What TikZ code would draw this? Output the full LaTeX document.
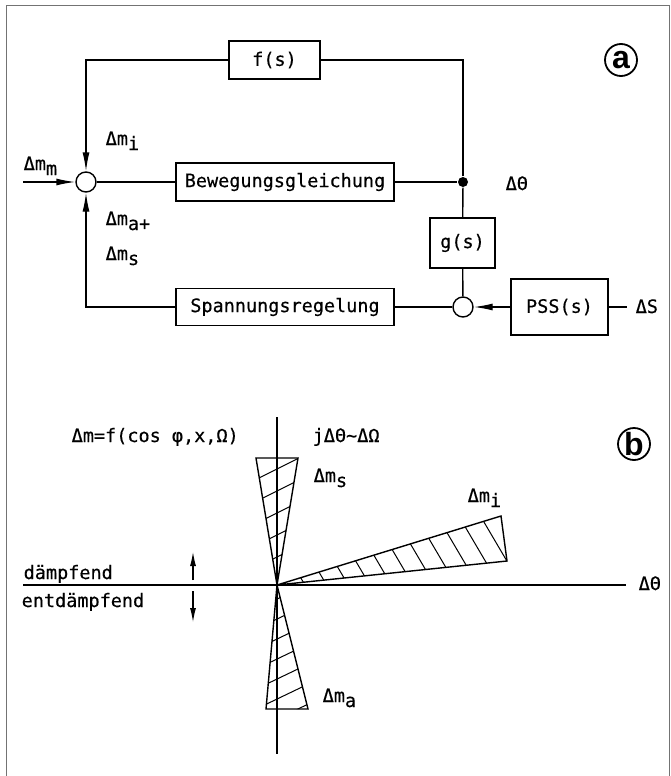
\documentclass[tikz,border=0pt]{standalone}
\usepackage{fontspec}
\setmainfont{DejaVu Sans Mono}[FakeBold=0.4]
\newfontfamily\tagfont{Liberation Sans}
\usetikzlibrary{arrows.meta,positioning,calc}
\definecolor{framegray}{RGB}{115,115,115}
\newcommand{\lowsub}[1]{\raisebox{-5pt}{#1}}

\begin{document}
\begin{tikzpicture}[
  x=1pt, y=-1pt,
  >={Latex[length=19pt,width=7pt]},
  line width=1.4pt,
  font=\fontsize{18.5}{20}\selectfont,
  block/.style={
    draw,
    minimum height=38pt,
    inner sep=0pt
  },
  summer/.style={
    draw,
    circle,
    minimum size=20pt,
    inner sep=0pt
  },
  sig/.style={anchor=base west, inner sep=0pt},
  tag/.style={
    draw,
    circle,
    line width=1.8pt,
    minimum size=32pt,
    inner sep=0pt,
    font=\tagfont\bfseries\fontsize{32}{32}\selectfont
  },
  hatch/.style={line width=1pt},
  thinarrow/.style={line width=1.1pt, -{Latex[length=14pt,width=6pt]}}
]

  \useasboundingbox (0,0) rectangle (671,776);
  \draw[framegray, line width=1pt] (6,776) -- (6,6) -- (669,6) -- (669,776);

  % Part a: block diagram
  \node[block, minimum width=91pt] (fs) at (274.5,60) {f(s)};
  \node[block, minimum width=218pt] (beweg) at (285,182) {Bewegungsgleichung};
  \node[block, minimum width=65pt, minimum height=50pt] (gs) at (462.5,243) {g(s)};
  \node[block, minimum width=218pt, minimum height=37pt] (spann) at (285,307) {Spannungsregelung};
  \node[block, minimum width=97pt, minimum height=56pt] (pss) at (559.5,307) {PSS(s)};

  \node[summer] (sum1) at (86,182) {};
  \node[summer] (sum2) at (463,307) {};
  \node[circle, fill, minimum size=10pt, inner sep=0pt] (branch) at (463,182) {};
  \coordinate (mmin) at (23,182);
  \coordinate (dsend) at (627,307);

  \draw[->] (mmin) -- (sum1);
  \draw (sum1) -- (beweg);
  \draw (beweg) -- (branch);
  \draw (branch) |- (fs);
  \draw[->] (fs) -| (sum1);
  \draw (branch) -- (gs);
  \draw (gs) -- (sum2);
  \draw[->] (pss) -- (sum2);
  \draw (sum2) -- (spann);
  \draw[->] (spann) -| (sum1);
  \draw (pss) -- (dsend);

  % Signal labels
  \node[sig] (lmm) at (23,170) {Δm\lowsub{m}};
  \node[sig] (lmi) at (105,145) {Δm\lowsub{i}};
  \node[sig] (lma) at (105,225) {Δm\lowsub{a+}};
  \node[sig] (lms) at (105,260) {Δm\lowsub{s}};
  \node[sig] (lth) at (505,190) {ΔΘ};
  \node[sig] (lds) at (635,313) {ΔS};
  \node[tag] (taga) at (621,60) {a};

  % Part b: phasor plane
  \coordinate (O) at (277,585);
  \coordinate (vtop) at (277,417);
  \coordinate (vbot) at (277,754);
  \coordinate (hleft) at (23,585);
  \coordinate (hright) at (626,585);
  \draw (vtop) -- (vbot);
  \draw (hleft) -- (hright);

  \coordinate (sL) at (256,458);
  \coordinate (sR) at (298,458);
  \coordinate (aL) at (266,709);
  \coordinate (aR) at (308,709);
  \coordinate (iU) at (501,516);
  \coordinate (iD) at (507,561);

  \draw (O) -- (sL) -- (sR) -- cycle;
  \draw (O) -- (aL) -- (aR) -- cycle;
  \draw (O) -- (iU) -- (iD) -- cycle;

  \begin{scope}
    \clip (O) -- (sL) -- (sR) -- cycle;
    \foreach \c in {469,491,513,535,557,579}
      \draw[hatch] (250,\c+13.5) -- (305,\c-14);
  \end{scope}
  \begin{scope}
    \clip (O) -- (aL) -- (aR) -- cycle;
    \foreach \c in {599,619,639,659,679,699,719}
      \draw[hatch] (250,\c+13) -- (320,\c-20.6);
  \end{scope}
  \begin{scope}
    \clip (O) -- (iU) -- (iD) -- cycle;
    \foreach \k in {0,...,11}
      \draw[hatch] ({551-21.6*\k},636) -- ({461-21.6*\k},483);
  \end{scope}

  \coordinate (up0) at (193,580);
  \coordinate (up1) at (193,552);
  \coordinate (dn0) at (193,591);
  \coordinate (dn1) at (193,622);
  \draw[thinarrow] (up0) -- (up1);
  \draw[thinarrow] (dn0) -- (dn1);

  \node[sig] (lfun) at (71,442) {Δm=f(cos φ,x,Ω)};
  \node[sig] (ljth) at (312,442) {jΔΘ\textasciitilde ΔΩ};
  \node[sig] (lbs) at (313,482) {Δm\lowsub{s}};
  \node[sig] (lbi) at (467,502) {Δm\lowsub{i}};
  \node[sig] (lba) at (322,702) {Δm\lowsub{a}};
  \node[sig] (ldp) at (23,579) {dämpfend};
  \node[sig] (lent) at (21,607) {entdämpfend};
  \node[sig] (lbth) at (638,590) {ΔΘ};
  \node[tag] (tagb) at (634,444) {b};

\end{tikzpicture}
\end{document}
